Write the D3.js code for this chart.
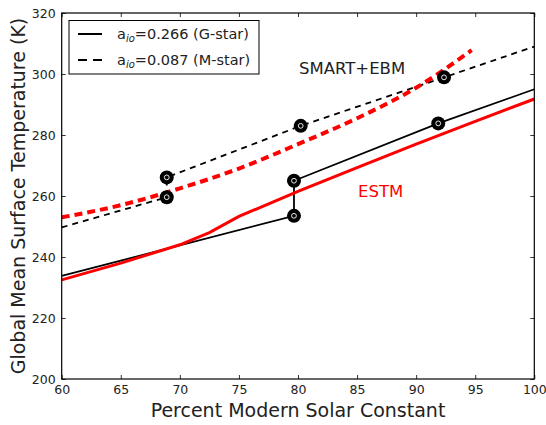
<!DOCTYPE html>
<html><head><meta charset="utf-8">
<script src="https://cdn.jsdelivr.net/npm/d3@7"></script>
<style>html,body{margin:0;padding:0;background:#fff;} svg{display:block;}</style>
</head><body>
<svg id="c" width="546" height="425"></svg>
<script>
// ---- data ----
const xTicks = [60, 65, 70, 75, 80, 85, 90, 95, 100];
const yTicks = [200, 220, 240, 260, 280, 300, 320];

// SMART+EBM, G-star (solid black)
const smartGSolar = [60, 79.66, 79.66, 91.87, 100];
const smartGTemp  = [233.8, 253.5, 265.0, 283.8, 295.0];
// SMART+EBM, M-star (dashed black)
const smartMSolar = [60, 68.89, 68.89, 80.23, 92.36, 100];
const smartMTemp  = [249.7, 259.6, 266.1, 283.0, 298.9, 309.0];
// ESTM, G-star (solid red)
const estmGSolar = [60, 65, 70, 72.5, 75, 80, 85, 90, 95, 100];
const estmGTemp  = [232.5, 238.0, 244.0, 248.0, 253.3, 261.5, 269.3, 277.0, 284.5, 291.8];
// ESTM, M-star (dashed red)
const estmMSolar = [60, 65, 70, 75, 80, 85, 90, 94.7];
const estmMTemp  = [253.0, 257.0, 262.5, 269.0, 277.0, 285.5, 295.5, 307.8];
// SMART+EBM sample points (markers)
const markSolar = [79.66, 79.66, 91.87, 68.89, 68.89, 80.23, 92.36];
const markTemp  = [253.5, 265.0, 283.8, 259.6, 266.1, 283.0, 298.9];

const legendLabels = ["0.266 (G-star)", "0.087 (M-star)"];

// ---- drawing ----
const svg = d3.select("#c");
const FONT = "DejaVu Sans, Bitstream Vera Sans, sans-serif";
const L = 61.7, R = 534.3, T = 13, B = 379;
const x = d3.scaleLinear().domain([60, 100]).range([L, R]);
const y = d3.scaleLinear().domain([200, 320]).range([B, T]);

function styleAxis(g) {
  g.select(".domain").remove();
  g.selectAll(".tick line").attr("stroke", "#000").attr("stroke-width", 0.8);
  g.selectAll(".tick text").attr("font-family", FONT).attr("font-size", 12.5).attr("fill", "#222");
}
svg.append("g").attr("transform", `translate(0,${B})`)
  .call(d3.axisBottom(x).tickValues(xTicks).tickSizeInner(-4).tickSizeOuter(0).tickPadding(6).tickFormat(d3.format("d")))
  .call(styleAxis);
svg.append("g").attr("transform", `translate(0,${T})`)
  .call(d3.axisTop(x).tickValues(xTicks).tickSizeInner(-4).tickSizeOuter(0).tickFormat(""))
  .call(styleAxis);
svg.append("g").attr("transform", `translate(${L},0)`)
  .call(d3.axisLeft(y).tickValues(yTicks).tickSizeInner(-4).tickSizeOuter(0).tickPadding(6).tickFormat(d3.format("d")))
  .call(styleAxis);
svg.append("g").attr("transform", `translate(${R},0)`)
  .call(d3.axisRight(y).tickValues(yTicks).tickSizeInner(-4).tickSizeOuter(0).tickFormat(""))
  .call(styleAxis);

const clip = svg.append("clipPath").attr("id", "pc").append("rect")
  .attr("x", L).attr("y", T).attr("width", R - L).attr("height", B - T);
const plot = svg.append("g").attr("clip-path", "url(#pc)");

function series(xs, ys) { return xs.map((v, i) => [v, ys[i]]); }
const lineLin = d3.line().x(d => x(d[0])).y(d => y(d[1]));
const lineSmooth = d3.line().x(d => x(d[0])).y(d => y(d[1])).curve(d3.curveMonotoneX);

plot.append("path").datum(series(smartGSolar, smartGTemp)).attr("d", lineLin)
  .attr("fill", "none").attr("stroke", "#000").attr("stroke-width", 1.8);
plot.append("path").datum(series(smartMSolar, smartMTemp)).attr("d", lineLin)
  .attr("fill", "none").attr("stroke", "#000").attr("stroke-width", 1.8).attr("stroke-dasharray", "6,5");
plot.append("path").datum(series(estmGSolar, estmGTemp)).attr("d", lineLin)
  .attr("fill", "none").attr("stroke", "#ff0000").attr("stroke-width", 3);
plot.append("path").datum(series(estmMSolar, estmMTemp)).attr("d", lineSmooth)
  .attr("fill", "none").attr("stroke", "#ff0000").attr("stroke-width", 4).attr("stroke-dasharray", "8,5");

const marks = plot.selectAll("g.mk").data(series(markSolar, markTemp)).enter().append("g").attr("class", "mk")
  .attr("transform", d => `translate(${x(d[0])},${y(d[1])})`);
marks.append("circle").attr("r", 7).attr("fill", "#000");
marks.append("circle").attr("r", 2.4).attr("fill", "none").attr("stroke", "#fff").attr("stroke-width", 0.9);

// frame
svg.append("rect").attr("x", L).attr("y", T).attr("width", R - L).attr("height", B - T)
  .attr("fill", "none").attr("stroke", "#000").attr("stroke-width", 1.2);

// annotations
svg.append("text").attr("x", 299).attr("y", 74).attr("font-family", FONT).attr("font-size", 16.5)
  .attr("fill", "#222").text("SMART+EBM");
svg.append("text").attr("x", 358).attr("y", 196.5).attr("font-family", FONT).attr("font-size", 16.5)
  .attr("fill", "#ff0000").text("ESTM");

// legend
const lg = svg.append("g");
lg.append("rect").attr("x", 69).attr("y", 20.5).attr("width", 190).attr("height", 53.5)
  .attr("fill", "#fff").attr("stroke", "#000").attr("stroke-width", 1);
const rows = [{dash: null, yy: 34}, {dash: "9,6", yy: 60}];
rows.forEach((r, i) => {
  const ln = lg.append("line").attr("x1", 78).attr("x2", 102).attr("y1", r.yy).attr("y2", r.yy)
    .attr("stroke", "#000").attr("stroke-width", 2);
  if (r.dash) ln.attr("stroke-dasharray", r.dash);
  const t = lg.append("text").attr("x", 117).attr("y", r.yy + 5).attr("font-family", FONT)
    .attr("font-size", 14.5).attr("fill", "#222");
  t.append("tspan").text("a");
  t.append("tspan").attr("dy", 3).attr("font-size", 10).attr("font-style", "italic").text("io");
  t.append("tspan").attr("dy", -3).text("=" + legendLabels[i]);
});

// axis titles
svg.append("text").attr("x", (L + R) / 2).attr("y", 417).attr("text-anchor", "middle")
  .attr("font-family", FONT).attr("font-size", 19).attr("fill", "#222").text("Percent Modern Solar Constant");
svg.append("text").attr("transform", `translate(25,${(T + B) / 2}) rotate(-90)`).attr("text-anchor", "middle")
  .attr("font-family", FONT).attr("font-size", 19).attr("fill", "#222").text("Global Mean Surface Temperature (K)");
</script>
</body></html>
